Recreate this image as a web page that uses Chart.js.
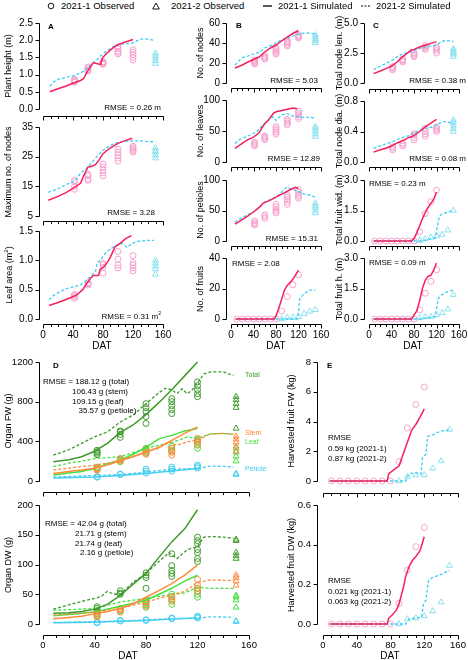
<!DOCTYPE html>
<html>
<head>
<meta charset="utf-8">
<script src="https://cdn.jsdelivr.net/npm/chart.js@4.4.0/dist/chart.umd.min.js"></script>
<style>
  body { margin: 0; background: #fff; }
  #fig { position: relative; width: 468px; height: 660px; overflow: hidden; font-family: "Liberation Sans", Arial, sans-serif; }
  #fig canvas { position: absolute; }
  .t { position: absolute; white-space: nowrap; line-height: 1; color: #000; }
</style>
</head>
<body>
<div id="fig"></div>
<script>
// x axis (days after transplanting)
const dayTicks = [0, 40, 80, 120, 160];
const sampleDays1 = [42, 60, 80, 100, 120];
const sampleDays2 = [150];
const fruitDays1 = [10, 20, 30, 40, 50, 60, 70, 80, 90, 100, 110, 120];
const fruitDays2 = [90, 100, 110, 120, 130, 140, 150];

// A - plant height (m)
const heightObs1 = [[0.78, 0.82, 0.86, 0.8, 0.84], [1.1, 1.15, 1.2, 1.13, 1.22], [1.3, 1.33, 1.36, 1.38, 1.32], [1.6, 1.68, 1.75, 1.8, 1.65], [1.42, 1.5, 1.58, 1.65, 1.72]];
const heightObs2 = [[1.32, 1.4, 1.48, 1.55, 1.62]];
const heightSim1 = [[9, 0.5], [20, 0.59], [30, 0.66], [40, 0.75], [50, 0.83], [54, 0.88], [58, 1.05], [62, 1.18], [67, 1.35], [70, 1.33], [74, 1.31], [77, 1.3], [79, 1.48], [85, 1.62], [90, 1.72], [96, 1.82], [100, 1.87], [110, 1.95], [120, 2.02]];
const heightSim2 = [[9, 0.66], [15, 0.8], [21, 0.87], [30, 0.92], [41, 0.97], [50, 1.05], [56, 1.12], [62, 1.24], [67, 1.34], [72, 1.43], [76, 1.53], [81, 1.63], [88, 1.73], [94, 1.82], [100, 1.87], [108, 1.9], [114, 1.9], [120, 1.92], [125, 1.98], [130, 2.03], [140, 2.03], [148, 2.0]];

// A - maximum no. of nodes
const maxNodeObs1 = [[14, 15, 16.5, 17], [17, 17.5, 18.5, 19], [18.5, 19.5, 20.5, 21.5, 22.5], [23.5, 24.5, 25.5, 26.5, 27.5], [26.5, 27, 27.5, 28, 28.5]];
const maxNodeObs2 = [[24.5, 25.5, 26.5, 27, 28]];
const maxNodeSim1 = [[7, 10.3], [20, 11.6], [30, 12.8], [40, 14.3], [50, 16], [55, 19], [60, 21.5], [65, 21.8], [70, 22.3], [75, 24], [80, 26], [90, 28], [100, 29.5], [110, 30.5], [119, 31.2]];
const maxNodeSim2 = [[7, 13], [20, 14.2], [30, 15.5], [40, 16.5], [45, 17.5], [50, 19.5], [60, 21.5], [70, 24.5], [80, 27.2], [90, 28.8], [100, 29.8], [110, 30.2], [120, 30.3], [130, 30.3], [140, 30.1], [150, 30]];

// A - leaf area (m2)
const areaObs1 = [[0.35, 0.38, 0.4, 0.42], [0.58, 0.6, 0.62], [0.78, 0.88, 0.92, 0.95], [0.87, 0.92, 1.02, 1.15], [0.82, 0.87, 0.92, 0.96, 1.08]];
const areaObs2 = [[0.76, 0.85, 0.9, 0.95, 1.0]];
const areaSim1 = [[8, 0.23], [20, 0.28], [28, 0.32], [38, 0.37], [45, 0.41], [53, 0.5], [58, 0.6], [62, 0.67], [67, 0.74], [74, 0.74], [76, 0.84], [81, 0.89], [86, 0.97], [90, 1.06], [96, 1.23], [103, 1.29], [110, 1.37], [118, 1.42]];
const areaSim2 = [[8, 0.33], [15, 0.41], [23, 0.47], [32, 0.52], [41, 0.55], [50, 0.58], [56, 0.64], [63, 0.72], [70, 0.81], [72, 0.95], [76, 1.0], [85, 1.15], [94, 1.23], [103, 1.29], [108, 1.27], [112, 1.22], [118, 1.28], [125, 1.32], [139, 1.34], [148, 1.34]];

// B - counts
const nodeObs1 = [[19, 20, 21, 22, 23], [24, 25, 26, 27.5], [29, 30.5, 32, 33.5, 35], [37, 38.5, 40, 41, 42], [45, 46, 47, 48]];
const nodeObs2 = [[40, 42, 44, 46, 48]];
const nodeSim1 = [[7, 15], [20, 18], [30, 21], [40, 23.5], [50, 26], [60, 31], [70, 35], [80, 38], [90, 42], [100, 46], [110, 49.5], [120, 52.5]];
const nodeSim2 = [[7, 18], [19, 25], [30, 27], [40, 29], [52, 31], [60, 35], [75, 38.5], [93, 44], [110, 47], [122, 49.5], [140, 50], [150, 49]];

const leafObs1 = [[26, 28, 30, 32], [36, 38, 40, 42], [45, 48, 51, 54, 57], [60, 63, 66, 69], [70, 73, 76, 79, 82]];
const leafObs2 = [[41, 45, 50, 54, 57]];
const leafSim1 = [[7, 22], [20, 30], [30, 36], [40, 40], [50, 47], [55, 55], [60, 62], [65, 66], [70, 72], [75, 78], [80, 81], [90, 83], [100, 85], [110, 87], [118, 86]];
const leafSim2 = [[7, 30], [15, 36], [25, 40], [35, 44], [45, 48], [55, 58], [65, 66], [75, 73], [80, 67], [90, 76], [100, 78], [110, 74], [120, 73], [130, 72], [140, 72], [150, 71]];

const petObs1 = [[26, 28, 30, 33], [37, 40, 43], [46, 49, 52, 56, 60], [60, 64, 68, 72, 75], [70, 73, 76, 80, 84]];
const petObs2 = [[46, 50, 55, 58, 62]];
const petSim1 = [[7, 27.5], [20, 35], [30, 41], [40, 47.5], [50, 55], [57, 62], [65, 65], [70, 67], [80, 72], [93, 78], [105, 84], [114, 88], [120, 86]];
const petSim2 = [[7, 31], [22, 39.6], [40, 48], [50, 55], [60, 64], [70, 68], [81, 72.5], [90, 80], [99, 88], [105, 86], [111, 84], [120, 81], [130, 77], [140, 75], [150, 72]];

const fruitObs1 = [0, 0, 0, 0, 0, 0, 0, 0, 5.3, 14.7, 22.4, 29];
const fruitObs2 = [0, 1, 1, 1.5, 3.5, 5, 6];
const fruitSim1 = [[8, 0], [77, 0], [80, 2], [85, 7], [90, 13], [95, 19], [100, 22], [105, 24], [110, 26], [115, 29], [120, 32]];
const fruitSim2 = [[8, 0], [118, 0], [120, 4], [122, 13], [128, 15.8], [140, 19], [150, 19]];

// C - sizes (m)
const lenObs1 = [[1.1, 1.2, 1.3, 1.37], [1.75, 1.85, 1.95, 2.0], [2.2, 2.3, 2.4, 2.5], [2.8, 2.9, 3.0, 3.1], [2.5, 2.7, 2.85, 3.0]];
const lenObs2 = [[2.2, 2.4, 2.55, 2.7, 2.85]];
const lenSim1 = [[8, 0.78], [20, 1.0], [30, 1.2], [40, 1.4], [50, 1.75], [55, 2.0], [60, 2.2], [70, 2.55], [75, 2.75], [80, 2.8], [90, 3.0], [100, 3.15], [110, 3.3], [120, 3.45]];
const lenSim2 = [[8, 1.1], [20, 1.4], [31, 1.65], [43, 1.95], [55, 2.33], [65, 2.5], [73, 2.6], [90, 2.88], [102, 3.02], [120, 3.16], [126, 3.35], [132, 3.5], [145, 3.52], [150, 3.45]];

const diaObs1 = [[0.16, 0.18, 0.2], [0.21, 0.23, 0.25], [0.29, 0.32, 0.35, 0.37], [0.34, 0.37, 0.4, 0.44], [0.4, 0.42, 0.44, 0.46]];
const diaObs2 = [[0.4, 0.44, 0.48, 0.52, 0.55]];
const diaSim1 = [[8, 0.13], [20, 0.16], [30, 0.18], [40, 0.21], [50, 0.25], [60, 0.28], [70, 0.32], [75, 0.33], [80, 0.35], [90, 0.4], [100, 0.46], [110, 0.51], [120, 0.56]];
const diaSim2 = [[8, 0.18], [20, 0.21], [31, 0.24], [43, 0.27], [55, 0.31], [73, 0.35], [85, 0.4], [97, 0.44], [114, 0.46], [122, 0.5], [132, 0.53], [142, 0.52], [150, 0.5]];

const widObs1 = [0, 0, 0, 0, 0, 0, 0, 0, 0.45, 1.35, 1.93, 2.5];
const widObs2 = [0.02, 0.1, 0.18, 0.25, 0.32, 0.53, 1.5];
const widSim1 = [[8, 0], [76, 0], [80, 0.12], [85, 0.4], [90, 0.75], [95, 1.1], [100, 1.4], [105, 1.65], [110, 1.85], [115, 2.05], [120, 2.4]];
const widSim2 = [[8, 0], [95, 0], [100, 0.05], [110, 0.1], [118, 0.15], [120, 0.5], [125, 1.2], [130, 1.35], [140, 1.42], [150, 1.5]];

const hgtObs1 = [0, 0, 0, 0, 0, 0, 0, 0, 0.45, 1.27, 1.85, 2.42];
const hgtObs2 = [0.05, 0.1, 0.1, 0.2, 0.3, 0.48, 1.2];
const hgtSim1 = [[8, 0], [76, 0], [80, 0.2], [85, 0.4], [90, 0.9], [95, 1.5], [100, 1.9], [105, 2.1], [110, 2.15], [115, 2.4], [120, 2.75]];
const hgtSim2 = [[8, 0], [95, 0], [100, 0.05], [110, 0.08], [118, 0.1], [120, 0.5], [123, 1.0], [130, 1.2], [140, 1.35], [150, 1.43]];

// D - organ fresh weight (g)
const fwTotalObs1 = [[265, 280, 295, 310], [440, 470, 495, 505], [580, 650, 700, 740, 780], [680, 720, 760, 800, 830], [850, 880, 920, 960, 1000]];
const fwTotalObs2 = [[530, 740, 780, 820, 850]];
const fwStemObs1 = [[110, 125, 135], [200, 215, 225], [270, 290, 310, 320], [260, 290, 310, 330], [360, 390, 410, 430]];
const fwStemObs2 = [[300, 350, 390, 420, 450]];
const fwLeafObs1 = [[115, 130, 140], [195, 210, 225], [280, 300, 320, 330], [300, 330, 350], [330, 370, 400, 420]];
const fwLeafObs2 = [[200, 250, 290, 330]];
const fwPetObs1 = [[38, 45], [65, 70], [80, 100, 120], [100, 120, 140], [130, 145, 160]];
const fwPetObs2 = [[65, 75]];
const fwTotalSim1 = [[8, 195], [20, 215], [30, 245], [40, 300], [50, 380], [60, 490], [70, 565], [80, 670], [90, 790], [100, 920], [110, 1060], [120, 1200]];
const fwTotalSim2 = [[8, 260], [20, 315], [30, 380], [40, 445], [50, 495], [60, 595], [70, 665], [80, 780], [90, 890], [95, 935], [100, 920], [104, 880], [108, 930], [112, 880], [116, 920], [120, 990], [125, 1080], [130, 1100], [140, 1100], [148, 1065]];
const fwStemSim1 = [[8, 75], [20, 95], [30, 110], [40, 128], [50, 160], [60, 205], [70, 245], [80, 290], [90, 340], [100, 410], [110, 480], [120, 545]];
const fwStemSim2 = [[8, 110], [20, 130], [30, 145], [40, 160], [50, 180], [60, 210], [70, 250], [80, 295], [90, 330], [98, 395], [104, 360], [112, 395], [120, 415], [130, 475], [140, 480], [148, 472]];
const fwLeafSim1 = [[8, 60], [20, 80], [30, 95], [40, 125], [50, 175], [60, 210], [70, 270], [80, 340], [90, 425], [100, 460], [110, 505], [120, 530]];
const fwLeafSim2 = [[8, 145], [20, 180], [30, 200], [40, 225], [50, 235], [60, 245], [70, 285], [80, 330], [90, 360], [100, 390], [105, 410], [112, 445], [120, 430], [130, 475], [140, 478], [148, 470]];
const fwPetSim1 = [[8, 30], [40, 40], [60, 55], [80, 75], [100, 100], [120, 125]];
const fwPetSim2 = [[8, 40], [40, 55], [60, 65], [80, 90], [100, 120], [120, 125], [130, 150], [140, 148], [148, 142]];

// D - organ dry weight (g)
const dwTotalObs1 = [[22, 26, 29], [50, 52, 56], [60, 78, 82, 86], [80, 85, 90, 98, 118], [105, 110, 120, 125, 135, 140, 146]];
const dwTotalObs2 = [[110, 115, 120, 140, 142]];
const dwStemObs1 = [[12, 15, 18], [20, 24, 26], [30, 34, 38], [38, 42, 46], [55, 60, 65, 75]];
const dwStemObs2 = [[65, 72, 78, 82]];
const dwLeafObs1 = [[14, 17, 20], [22, 25], [28, 32, 36, 40], [33, 40, 45, 50], [45, 50, 55, 60]];
const dwLeafObs2 = [[28, 40, 45, 48]];
const dwPetObs1 = [[2, 3], [5, 6], [6, 7], [9, 10], [10, 12, 13]];
const dwPetObs2 = [[4, 5]];
const dwTotalSim1 = [[8, 18], [20, 19], [30, 21], [40, 25], [50, 33], [60, 48], [70, 67], [80, 85], [90, 112], [100, 138], [110, 160], [120, 192]];
const dwTotalSim2 = [[8, 25], [20, 32], [30, 38], [40, 43], [45, 46], [50, 55], [55, 50], [60, 50], [70, 70], [80, 85], [90, 105], [98, 120], [104, 110], [112, 125], [120, 130], [125, 146], [132, 147], [140, 146], [148, 144]];
const dwStemSim1 = [[8, 9], [20, 11], [30, 13], [40, 17], [50, 21], [60, 26], [70, 34], [80, 45], [90, 56], [100, 68], [110, 82], [120, 99]];
const dwStemSim2 = [[8, 15], [40, 20], [60, 26], [80, 37], [100, 49], [110, 55], [115, 62], [120, 70], [130, 74], [148, 73]];
const dwLeafSim1 = [[8, 14], [20, 16], [40, 20], [60, 30], [80, 40], [100, 60], [110, 72], [120, 82]];
const dwLeafSim2 = [[8, 23], [40, 26], [60, 37], [80, 43], [100, 50], [110, 52], [120, 62], [130, 60], [148, 60]];
const dwPetSim1 = [[8, 2], [40, 3], [60, 4.5], [80, 6], [100, 8.5], [120, 10]];
const dwPetSim2 = [[8, 2.5], [40, 4], [60, 5], [80, 7], [100, 9], [120, 10], [130, 12], [148, 11.5]];

// E - harvested fruit (kg)
const harvFwObs1 = [0, 0, 0, 0, 0, 0, 0, 0, 1.3, 3.57, 5.14, 6.32];
const harvFwObs2 = [0, 0.3, 0.4, 0.4, 0.85, 1.35, 3.46];
const harvFwSim1 = [[8, 0], [76, 0], [78, 0.5], [85, 0.8], [90, 1.0], [95, 1.8], [100, 2.6], [105, 3.4], [110, 3.8], [115, 4.3], [120, 4.85]];
const harvFwSim2 = [[8, 0], [98, 0], [100, 0.3], [103, 0.5], [110, 0.55], [116, 0.45], [118, 1.6], [122, 1.8], [124, 3.0], [130, 3.1], [135, 3.25], [140, 3.35], [150, 3.45]];
const harvDwObs1 = [0, 0, 0, 0, 0, 0, 0, 0, 0.104, 0.272, 0.39, 0.487];
const harvDwObs2 = [0, 0.025, 0.03, 0.04, 0.065, 0.11, 0.295];
const harvDwSim1 = [[8, 0], [76, 0], [78, 0.03], [82, 0.045], [87, 0.07], [90, 0.1], [95, 0.18], [98, 0.24], [102, 0.29], [106, 0.32], [110, 0.34], [115, 0.37], [120, 0.44]];
const harvDwSim2 = [[8, 0], [98, 0], [102, 0.025], [110, 0.03], [117, 0.035], [119, 0.1], [122, 0.12], [125, 0.22], [130, 0.235], [140, 0.25], [150, 0.27]];

const RED = '#f5205a', CYAN = '#3ccdf2', PINK = '#f6a2cf', AQUA = '#86e2ee';
const DKGREEN = '#3f9a2c', ORANGE = '#ff8a3c', LTGREEN = '#45e03f', SKY = '#44cff0';

Chart.defaults.font.family = '"Liberation Sans", Arial, sans-serif';
const fig = document.getElementById('fig');

// axis lines drawn only over the data range (detached spines)
const offsetAxes = {
  id: 'offsetAxes',
  afterDraw(chart) {
    const { ctx, chartArea: area, scales: { x, y } } = chart;
    const yv = y.ticks.map(t => t.value);
    const px = v => Math.round(x.getPixelForValue(v)) + 0.5;
    const py = v => Math.round(y.getPixelForValue(v)) + 0.5;
    const left = Math.round(area.left) + 0.5, bottom = Math.round(area.bottom) + 0.5;
    ctx.save();
    ctx.strokeStyle = '#000';
    ctx.lineWidth = 1;
    ctx.beginPath();
    ctx.moveTo(left, py(yv[0])); ctx.lineTo(left, py(yv[yv.length - 1]));
    yv.forEach(v => { ctx.moveTo(left - 4, py(v)); ctx.lineTo(left, py(v)); });
    ctx.moveTo(px(0), bottom); ctx.lineTo(px(160), bottom);
    for (let d = 0; d <= 160; d += 10) {
      ctx.moveTo(px(d), bottom); ctx.lineTo(px(d), bottom + (d % 40 === 0 ? 4 : 2.5));
    }
    ctx.stroke();
    ctx.restore();
  }
};

const pts = pairs => pairs.map(([x, y]) => ({ x, y }));
function simLine(pairs, color, dashed) {
  return { data: pts(pairs), showLine: true, pointRadius: 0, borderColor: color,
    borderWidth: dashed ? 1.3 : 1.5, borderDash: dashed ? [3, 2] : [], clip: false };
}
function obs(days, groups, color, shape) {
  const data = [];
  days.forEach((d, i) => [].concat(groups[i]).forEach(v => data.push({ x: d, y: v })));
  return { data, showLine: false, pointStyle: shape, pointRadius: shape === 'triangle' ? 3.4 : 3,
    pointBorderWidth: 1, pointBorderColor: color, pointBackgroundColor: 'rgba(0,0,0,0)', clip: false };
}
const std = (s1, s2, o1, o2, d1 = sampleDays1, d2 = sampleDays2) =>
  [simLine(s1, RED, false), simLine(s2, CYAN, true), obs(d1, o1, PINK, 'circle'), obs(d2, o2, AQUA, 'triangle')];
const organs = (sets) => {
  const lines = [], marks = [];
  sets.forEach(([s1, s2, o1, o2, col]) => {
    lines.push(simLine(s1, col, false), simLine(s2, col, true));
    marks.push(obs(sampleDays1, o1, col, 'circle'), obs(sampleDays2, o2, col, 'triangle'));
  });
  return lines.concat(marks);
};

const COLS = {
  A: { x0: 43, x1: 163, gx: 4 },
  B: { x0: 231, x1: 321, gx: 5 },
  C: { x0: 369, x1: 459, gx: 5 },
  D: { x0: 43, x1: 249, gx: 4 },
  E: { x0: 323, x1: 458, gx: 6 }
};

function panel(p) {
  const c = COLS[p.col];
  const pxX = (c.x1 - c.x0) / 160;
  const y0 = p.yTicks[0], y1 = p.yTicks[p.yTicks.length - 1];
  const pxY = (p.bot - p.top) / (y1 - y0);
  const left = c.x0 - c.gx, right = c.x1, top = p.top, bottom = p.bot + p.gy;
  const yW = 40, xH = p.xLabels ? 22 : 8, padT = 8, padR = 12;
  const fs = p.fs || 10;
  const canvas = document.createElement('canvas');
  canvas.width = right - left + yW + padR;
  canvas.height = bottom - top + padT + xH;
  canvas.style.left = (left - yW) + 'px';
  canvas.style.top = (top - padT) + 'px';
  fig.appendChild(canvas);
  const axisBase = {
    type: 'linear',
    grid: { drawOnChartArea: false, color: 'rgba(0,0,0,0)', tickLength: 4 },
    border: { display: false }
  };
  new Chart(canvas, {
    type: 'scatter',
    data: { datasets: p.datasets },
    options: {
      responsive: false, animation: false, devicePixelRatio: 1,
      layout: { padding: { top: padT, right: padR, left: 0, bottom: 0 } },
      plugins: { legend: { display: false }, tooltip: { enabled: false } },
      scales: {
        x: { ...axisBase, min: -c.gx / pxX, max: 160,
          afterBuildTicks: s => { s.ticks = dayTicks.map(v => ({ value: v })); },
          afterFit: s => { s.height = xH; },
          ticks: { display: !!p.xLabels, padding: 1, maxRotation: 0, autoSkip: false, color: '#000', font: { size: fs } } },
        y: { ...axisBase, min: y0 - p.gy / pxY, max: y1,
          afterBuildTicks: s => { s.ticks = p.yTicks.map(v => ({ value: v })); },
          afterFit: s => { s.width = yW; },
          ticks: { padding: 2, autoSkip: false, color: '#000', font: { size: fs }, callback: v => v.toFixed(p.dec || 0) } }
      }
    },
    plugins: [offsetAxes]
  });
}

function text(s, x, y, o = {}) {
  const d = document.createElement('div');
  d.className = 't';
  d.innerHTML = s;
  d.style.left = x + 'px';
  d.style.top = y + 'px';
  d.style.fontSize = (o.size || 8) + 'px';
  if (o.color) d.style.color = o.color;
  if (o.bold) d.style.fontWeight = 'bold';
  const tx = o.rotate || o.align === 'center' ? '-50%' : o.align === 'right' ? '-100%' : '0';
  d.style.transform = `translate(${tx}, -50%)` + (o.rotate ? ' rotate(-90deg)' : '');
  fig.appendChild(d);
}

// column A
panel({ col: 'A', top: 23, bot: 109, gy: 7, yTicks: [0, 0.5, 1, 1.5, 2, 2.5], dec: 1,
  datasets: std(heightSim1, heightSim2, heightObs1, heightObs2) });
panel({ col: 'A', top: 127, bot: 216, gy: 5, yTicks: [5, 15, 25, 35],
  datasets: std(maxNodeSim1, maxNodeSim2, maxNodeObs1, maxNodeObs2) });
panel({ col: 'A', top: 231, bot: 319, gy: 5, yTicks: [0, 0.5, 1, 1.5], dec: 1, xLabels: true,
  datasets: std(areaSim1, areaSim2, areaObs1, areaObs2) });
// column B
panel({ col: 'B', top: 23, bot: 83, gy: 5, yTicks: [0, 20, 40, 60],
  datasets: std(nodeSim1, nodeSim2, nodeObs1, nodeObs2) });
panel({ col: 'B', top: 100, bot: 162, gy: 5, yTicks: [0, 50, 100],
  datasets: std(leafSim1, leafSim2, leafObs1, leafObs2) });
panel({ col: 'B', top: 180, bot: 241, gy: 5, yTicks: [0, 50, 100],
  datasets: std(petSim1, petSim2, petObs1, petObs2) });
panel({ col: 'B', top: 258, bot: 319, gy: 5, yTicks: [0, 20, 40], xLabels: true,
  datasets: std(fruitSim1, fruitSim2, fruitObs1, fruitObs2, fruitDays1, fruitDays2) });
// column C
panel({ col: 'C', top: 23, bot: 83, gy: 6, yTicks: [0, 2.5, 5], dec: 1,
  datasets: std(lenSim1, lenSim2, lenObs1, lenObs2) });
panel({ col: 'C', top: 101, bot: 162, gy: 5, yTicks: [0, 0.4, 0.8], dec: 1,
  datasets: std(diaSim1, diaSim2, diaObs1, diaObs2) });
panel({ col: 'C', top: 180, bot: 241, gy: 5, yTicks: [0, 1.5, 3], dec: 1,
  datasets: std(widSim1, widSim2, widObs1, widObs2, fruitDays1, fruitDays2) });
panel({ col: 'C', top: 258, bot: 319, gy: 5, yTicks: [0, 1.5, 3], dec: 1, xLabels: true,
  datasets: std(hgtSim1, hgtSim2, hgtObs1, hgtObs2, fruitDays1, fruitDays2) });
// D
panel({ col: 'D', top: 362, bot: 481, gy: 11, yTicks: [0, 400, 800, 1200], fs: 9.5,
  datasets: organs([
    [fwTotalSim1, fwTotalSim2, fwTotalObs1, fwTotalObs2, DKGREEN],
    [fwStemSim1, fwStemSim2, fwStemObs1, fwStemObs2, ORANGE],
    [fwLeafSim1, fwLeafSim2, fwLeafObs1, fwLeafObs2, LTGREEN],
    [fwPetSim1, fwPetSim2, fwPetObs1, fwPetObs2, SKY]]) });
panel({ col: 'D', top: 505, bot: 624, gy: 11, yTicks: [0, 50, 100, 150, 200], fs: 9.5, xLabels: true,
  datasets: organs([
    [dwTotalSim1, dwTotalSim2, dwTotalObs1, dwTotalObs2, DKGREEN],
    [dwStemSim1, dwStemSim2, dwStemObs1, dwStemObs2, ORANGE],
    [dwLeafSim1, dwLeafSim2, dwLeafObs1, dwLeafObs2, LTGREEN],
    [dwPetSim1, dwPetSim2, dwPetObs1, dwPetObs2, SKY]]) });
// E
panel({ col: 'E', top: 362, bot: 481, gy: 12, yTicks: [0, 2, 4, 6, 8], fs: 9.5,
  datasets: std(harvFwSim1, harvFwSim2, harvFwObs1, harvFwObs2, fruitDays1, fruitDays2) });
panel({ col: 'E', top: 505, bot: 624, gy: 11, yTicks: [0, 0.2, 0.4, 0.6], dec: 1, fs: 9.5, xLabels: true,
  datasets: std(harvDwSim1, harvDwSim2, harvDwObs1, harvDwObs2, fruitDays1, fruitDays2) });

// legend
fig.insertAdjacentHTML('beforeend',
  '<svg width="468" height="14" style="position:absolute;left:0;top:0">' +
  '<circle cx="51" cy="6" r="2.8" fill="none" stroke="#000" stroke-width="0.9"/>' +
  '<polygon points="156,3 159.3,9 152.7,9" fill="none" stroke="#000" stroke-width="0.9"/>' +
  '<line x1="263" y1="6" x2="272" y2="6" stroke="#000" stroke-width="1.3"/>' +
  '<line x1="361" y1="6" x2="371" y2="6" stroke="#000" stroke-width="1.1" stroke-dasharray="2,1.5"/>' +
  '</svg>');
text('2021-1 Observed', 61, 6, { size: 9.5 });
text('2021-2 Observed', 171, 6, { size: 9.5 });
text('2021-1 Simulated', 278, 6, { size: 9.5 });
text('2021-2 Simulated', 376, 6, { size: 9.5 });

// panel letters
text('A', 48, 26.5, { bold: true });
text('B', 236, 25.5, { bold: true });
text('C', 373, 25.5, { bold: true });
text('D', 53, 365.5, { bold: true });
text('E', 327, 366, { bold: true });

// axis titles
const T = { rotate: true, size: 9 };
text('Plant height (m)', 8, 66, T);
text('Maximum no. of nodes', 8, 172, T);
text('Leaf area (m<sup style="font-size:6px">2</sup>)', 8, 275, T);
text('No. of nodes', 200, 53, T);
text('No. of leaves', 200, 131, T);
text('No. of petioles', 200, 210, T);
text('No. of fruits', 200, 289, T);
text('Total node len. (m)', 339, 53, T);
text('Total node dia. (m)', 339, 131, T);
text('Total fruit wid. (m)', 339, 210, T);
text('Total fruit h. (m)', 339, 289, T);
text('Organ FW (g)', 8, 421, T);
text('Organ DW (g)', 8, 565, T);
text('Harvested fruit FW (kg)', 291, 421, T);
text('Harvested fruit DW (kg)', 291, 565, T);
text('DAT', 102, 346, { size: 10, align: 'center' });
text('DAT', 276, 346, { size: 10, align: 'center' });
text('DAT', 413, 346, { size: 10, align: 'center' });
text('DAT', 128, 656, { size: 10, align: 'center' });
text('DAT', 390, 656, { size: 10, align: 'center' });

// RMSE notes
text('RMSE = 0.26 m', 161, 108, { align: 'right' });
text('RMSE = 3.28', 155, 213, { align: 'right' });
text('RMSE = 0.31 m<sup style="font-size:5px">2</sup>', 161, 316, { align: 'right' });
text('RMSE = 5.03', 318, 80.5, { align: 'right' });
text('RMSE = 12.89', 320, 159, { align: 'right' });
text('RMSE = 15.31', 318, 239, { align: 'right' });
text('RMSE = 2.08', 232, 263.5);
text('RMSE = 0.38 m', 466, 81, { align: 'right' });
text('RMSE = 0.08 m', 466, 159, { align: 'right' });
text('RMSE = 0.23 m', 369, 184);
text('RMSE = 0.09 m', 369, 262.5);
text('RMSE = 188.12 g (total)', 43, 381.5);
text('106.43 g (stem)', 72, 391.5);
text('109.15 g (leaf)', 72, 401.5);
text('35.57 g (petiole)', 78.5, 410.5);
text('RMSE = 42.04 g (total)', 45, 524);
text('21.71 g (stem)', 75, 534);
text('21.74 g (leaf)', 75, 543.5);
text('2.16 g (petiole)', 80, 553);
text('RMSE', 328, 438);
text('0.59 kg (2021-1)', 328, 449);
text('0.87 kg (2021-2)', 328, 459);
text('RMSE', 328, 580.5);
text('0.021 kg (2021-1)', 328, 591.5);
text('0.063 kg (2021-2)', 328, 601.5);

// organ labels for panel D
text('Total', 245, 374, { size: 7, color: DKGREEN });
text('Stem', 245, 431.5, { size: 7, color: ORANGE });
text('Leaf', 245, 440.5, { size: 7, color: LTGREEN });
text('Petiole', 245, 467.5, { size: 7, color: SKY });
</script>
</body>
</html>
